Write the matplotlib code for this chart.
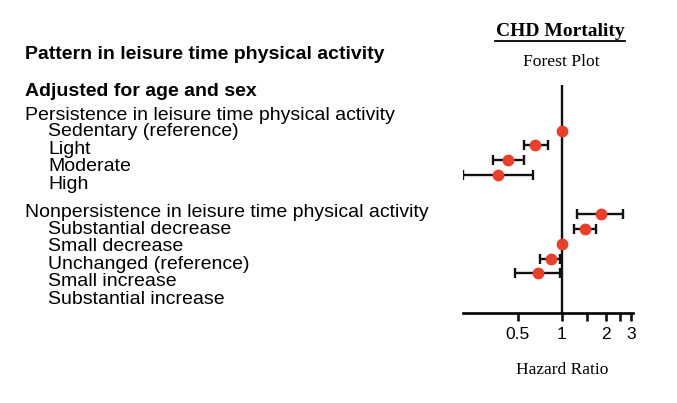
"""
CHD mortality forest plot: hazard ratios for patterns in leisure time
physical activity (adjusted for age and sex).

Saves: out.png
"""

import matplotlib
matplotlib.use("Agg")
import matplotlib.pyplot as plt
from matplotlib.lines import Line2D
from matplotlib.ticker import FixedLocator, NullFormatter
import numpy as np

# -----------------------------------------------------------------------
# Data
# -----------------------------------------------------------------------
header_labels = ["Pattern in leisure time physical activity",
                 "Adjusted for age and sex"]
group_labels  = ["Persistence in leisure time physical activity",
                 "Nonpersistence in leisure time physical activity"]
persist_labels = ["Sedentary (reference)", "Light", "Moderate", "High"]
nonpersist_labels = ["Substantial decrease", "Small decrease",
                     "Unchanged (reference)", "Small increase",
                     "Substantial increase"]

# hazard ratio estimates and 95% CI, one entry per marker row
hr    = [1.00, 0.66, 0.43, 0.365, 1.86, 1.44, 1.00, 0.84, 0.685]
lower = [1.00, 0.55, 0.34, 0.212, 1.28, 1.21, 1.00, 0.71, 0.48]
upper = [1.00, 0.81, 0.55, 0.64, 2.64, 1.72, 1.00, 0.98, 0.98]
rows  = [0, 1, 2, 3, 5.7, 6.7, 7.7, 8.7, 9.7]

major_ticks = [0.5, 1, 2, 3]
minor_ticks = [1.5, 2.5]

# -----------------------------------------------------------------------
# Figure
# -----------------------------------------------------------------------
W, H = 677, 403
fig = plt.figure(figsize=(W / 100, H / 100), dpi=100)

def fx(px):
    return px / W

def fy(py):
    return 1 - py / H

SANS  = ["Liberation Sans", "DejaVu Sans"]
SERIF = ["Liberation Serif", "DejaVu Serif"]
RED   = "#e8402c"
FS    = 14.0
STEP  = 17.4

# left-hand label column (positions are text baselines in pixels)
fig.text(fx(25), fy(59), header_labels[0], fontsize=FS, fontweight="bold",
         family=SANS, va="baseline")
fig.text(fx(25), fy(96.5), header_labels[1], fontsize=FS, fontweight="bold",
         family=SANS, va="baseline")
fig.text(fx(25), fy(120.5), group_labels[0], fontsize=FS, family=SANS,
         va="baseline")
for i, lab in enumerate(persist_labels):
    fig.text(fx(48), fy(136.5 + STEP * i), lab, fontsize=FS, family=SANS,
             va="baseline")
fig.text(fx(25), fy(217), group_labels[1], fontsize=FS, family=SANS,
         va="baseline")
for i, lab in enumerate(nonpersist_labels):
    fig.text(fx(48), fy(234 + STEP * i), lab, fontsize=FS, family=SANS,
             va="baseline")

# forest plot panel
ax = fig.add_axes([fx(462.7), fy(313), fx(632.7) - fx(462.7),
                   (313 - 85) / H])
ax.set_xscale("log")
ax.set_xlim(0.21, 3.06)
ax.set_ylim(12.4, -3.1)

hr_a = np.array(hr)
xerr = [hr_a - np.array(lower), np.array(upper) - hr_a]
ax.errorbar(hr, rows, xerr=xerr, fmt="none", ecolor="#111111",
            elinewidth=1.7, capsize=3.5, capthick=1.7, zorder=2)
ax.plot(hr, rows, "o", color=RED, markersize=7.5, zorder=3)
ax.axvline(1, color="#111111", linewidth=1.7, zorder=1)

for side in ["top", "right", "left"]:
    ax.spines[side].set_visible(False)
ax.spines["bottom"].set_linewidth(1.9)
ax.set_yticks([])
ax.xaxis.set_major_locator(FixedLocator(major_ticks))
ax.xaxis.set_minor_locator(FixedLocator(minor_ticks))
ax.set_xticklabels([f"{t:g}" for t in major_ticks])
ax.xaxis.set_minor_formatter(NullFormatter())
ax.tick_params(axis="x", which="both", direction="out", length=6,
               width=1.9, color="#111111", labelsize=12.5, pad=4)
for t in ax.get_xticklabels():
    t.set_family(SANS)

fig.text(fx(561.7), fy(370), "Hazard Ratio", fontsize=12.5, family=SERIF,
         ha="center", va="center")
fig.text(fx(560), fy(32), "CHD Mortality", fontsize=14, fontweight="bold",
         family=SERIF, ha="center", va="center")
fig.add_artist(Line2D([fx(495), fx(625)], [fy(41), fy(41)],
                      color="black", linewidth=1.3))
fig.text(fx(561), fy(62), "Forest Plot", fontsize=12.6, family=SERIF,
         ha="center", va="center")

out = "out.png"
fig.savefig(out, dpi=100)
plt.close(fig)
print(f"Saved: {out}")
